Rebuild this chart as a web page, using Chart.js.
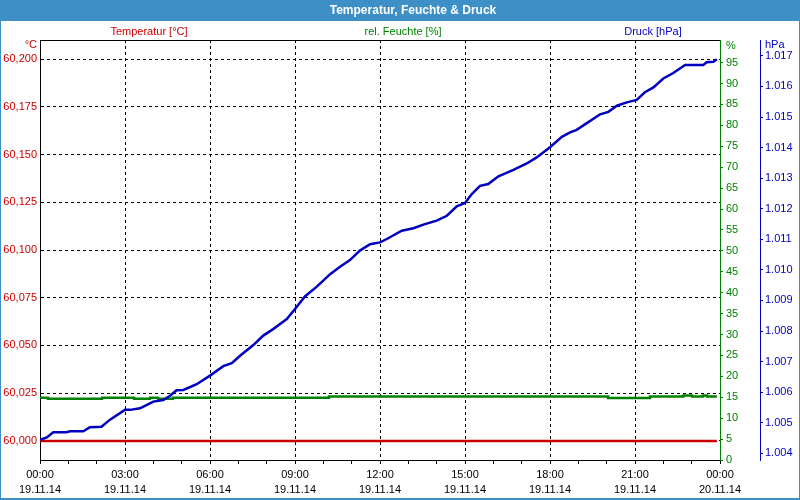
<!DOCTYPE html>
<html>
<head>
<meta charset="utf-8">
<script src="https://cdn.jsdelivr.net/npm/chart.js@4/dist/chart.umd.min.js"></script>
<style>
html,body{margin:0;padding:0;background:#fff;}
#wrap{position:relative;width:800px;height:500px;}
</style>
</head>
<body>
<div id="wrap"><canvas id="c" width="800" height="500"></canvas></div>
<script>
const chartTitle = 'Temperatur, Feuchte & Druck';
const seriesNames = ['Temperatur [°C]', 'rel. Feuchte [%]', 'Druck [hPa]'];
const unitLabels = ['°C', '%', 'hPa'];

// x axis: hours since 19.11.14 00:00
const hourTicks = [0,1,2,3,4,5,6,7,8,9,10,11,12,13,14,15,16,17,18,19,20,21,22,23,24];
const timeLabels = ['00:00','03:00','06:00','09:00','12:00','15:00','18:00','21:00','00:00'];
const dateLabels = ['19.11.14','19.11.14','19.11.14','19.11.14','19.11.14','19.11.14','19.11.14','19.11.14','20.11.14'];

const tempTicks = [60.000, 60.025, 60.050, 60.075, 60.100, 60.125, 60.150, 60.175, 60.200];
const humTicks = [0,5,10,15,20,25,30,35,40,45,50,55,60,65,70,75,80,85,90,95];
const pressTicks = [1004,1005,1006,1007,1008,1009,1010,1011,1012,1013,1014,1015,1016,1017];

const tempHours = [0, 23.89];
const tempValues = [60.000, 60.000];

const humHours = [0, 0.28, 2.19, 3.32, 3.88, 4.17, 4.69, 10.2, 20.05, 21.53, 22.7, 23.01, 23.4, 23.54, 23.89];
const humValues = [14.9, 14.65, 14.9, 14.65, 14.9, 14.65, 14.9, 15.15, 14.85, 15.15, 15.4, 15.15, 15.4, 15.15, 15.15];

const pressHours = [0,0.24,0.47,0.94,1.06,1.53,1.76,2.17,2.47,3.00,
  3.18,3.53,4.00,4.35,4.59,4.82,5.06,5.53,6.00,6.47,
  6.77,7.06,7.53,7.88,8.24,8.71,9.00,9.35,9.77,10.24,
  10.59,10.94,11.29,11.65,12.00,12.24,12.77,13.18,13.53,14.00,
  14.36,14.71,15.00,15.24,15.53,15.82,16.18,16.71,17.18,17.53,
  18.00,18.42,18.71,18.94,19.30,19.77,20.06,20.36,20.71,21.06,
  21.35,21.65,22.00,22.35,22.77,23.41,23.53,23.77,23.89];
const pressValues = [1004.44,1004.52,1004.69,1004.69,1004.72,1004.72,1004.85,1004.87,1005.10,1005.42,
  1005.42,1005.47,1005.69,1005.74,1005.88,1006.06,1006.07,1006.26,1006.54,1006.85,
  1006.95,1007.19,1007.54,1007.85,1008.07,1008.39,1008.72,1009.13,1009.45,1009.86,
  1010.10,1010.32,1010.63,1010.84,1010.90,1011.01,1011.28,1011.36,1011.48,1011.61,
  1011.77,1012.08,1012.19,1012.48,1012.75,1012.81,1013.06,1013.27,1013.48,1013.68,
  1014.01,1014.35,1014.50,1014.58,1014.80,1015.09,1015.17,1015.37,1015.48,1015.56,
  1015.81,1015.97,1016.26,1016.44,1016.70,1016.70,1016.79,1016.81,1016.89];

const RED = '#cc0000', GREEN = '#008000', BLUE = '#0000c0', BAR = '#3d8fc6';
const FAMILY = "'Liberation Sans', Arial, sans-serif";
const font11 = {family: FAMILY, size: 11};

const zip = (xs, ys) => xs.map((x, i) => ({x: x, y: ys[i]}));

const decor = {
  id: 'decor',
  beforeDraw(chart) {
    const ctx = chart.ctx;
    ctx.save();
    ctx.fillStyle = '#ffffff';
    ctx.fillRect(0, 0, 800, 500);
    ctx.fillStyle = BAR;
    ctx.fillRect(0, 0, 800, 21);
    ctx.fillRect(0, 0, 1, 500);
    ctx.fillRect(799, 0, 1, 500);
    ctx.fillRect(0, 498, 800, 2);
    ctx.fillStyle = '#ffffff';
    ctx.font = 'bold 12px ' + FAMILY;
    ctx.textAlign = 'center';
    ctx.textBaseline = 'middle';
    ctx.fillText(chartTitle, 413, 10.5);
    ctx.restore();
  },
  afterDraw(chart) {
    const ctx = chart.ctx;
    const a = chart.chartArea;
    ctx.save();
    ctx.strokeStyle = '#000';
    ctx.lineWidth = 1;
    ctx.beginPath();
    ctx.moveTo(a.left, Math.round(a.top) + 0.5);
    ctx.lineTo(a.right, Math.round(a.top) + 0.5);
    ctx.stroke();
    ctx.font = '11px ' + FAMILY;
    ctx.textBaseline = 'middle';
    ctx.textAlign = 'center';
    ctx.fillStyle = RED;  ctx.fillText(seriesNames[0], 149, 32);
    ctx.fillStyle = GREEN; ctx.fillText(seriesNames[1], 403, 32);
    ctx.fillStyle = BLUE; ctx.fillText(seriesNames[2], 653, 32);
    ctx.textAlign = 'right';
    ctx.fillStyle = RED; ctx.fillText(unitLabels[0], 37, 45);
    ctx.textAlign = 'left';
    ctx.fillStyle = GREEN; ctx.fillText(unitLabels[1], 726, 46);
    ctx.fillStyle = BLUE; ctx.fillText(unitLabels[2], 765, 45);
    ctx.restore();
  }
};

new Chart(document.getElementById('c'), {
  type: 'line',
  data: {
    datasets: [
      {label: seriesNames[2], data: zip(pressHours, pressValues), yAxisID: 'yP',
       borderColor: BLUE, borderWidth: 2.5, pointRadius: 0, tension: 0, fill: false},
      {label: seriesNames[1], data: zip(humHours, humValues), yAxisID: 'yH',
       borderColor: GREEN, borderWidth: 2.5, pointRadius: 0, stepped: true, fill: false},
      {label: seriesNames[0], data: zip(tempHours, tempValues), yAxisID: 'yT',
       borderColor: RED, borderWidth: 2.5, pointRadius: 0, tension: 0, fill: false}
    ]
  },
  options: {
    responsive: false,
    animation: false,
    devicePixelRatio: 1,
    layout: {padding: {top: 40, left: 0, right: 0, bottom: 0}},
    plugins: {legend: {display: false}, title: {display: false}, tooltip: {enabled: false}},
    scales: {
      x: {
        type: 'linear', position: 'bottom', min: 0, max: 24,
        afterBuildTicks: s => { s.ticks = hourTicks.map(v => ({value: v})); },
        afterFit: s => { s.height = 40; },
        grid: {
          color: c => (c.tick && c.tick.value % 3 === 0 && c.tick.value > 0 && c.tick.value < 24) ? '#000' : 'rgba(0,0,0,0)',
          tickColor: '#000', tickLength: 4, lineWidth: 1, tickBorderDash: []
        },
        border: {display: true, color: '#000', width: 1, dash: [3, 3]},
        ticks: {
          autoSkip: false, maxRotation: 0, minRotation: 0, padding: 3, color: '#000',
          font: {family: FAMILY, size: 11, lineHeight: 15 / 11},
          callback: v => (v % 3 === 0) ? [timeLabels[v / 3], dateLabels[v / 3]] : ''
        }
      },
      yT: {
        type: 'linear', position: 'left', min: 59.99, max: 60.21,
        afterBuildTicks: s => { s.ticks = tempTicks.map(v => ({value: v})); },
        afterFit: s => { s.width = 40; },
        grid: {color: '#000', drawTicks: false, lineWidth: 1},
        border: {display: true, color: '#000', width: 1, dash: [3, 3]},
        ticks: {color: RED, padding: 3, font: font11, callback: v => v.toFixed(3).replace('.', ',')}
      },
      yH: {
        type: 'linear', position: 'right', min: 0, max: 100.4,
        afterBuildTicks: s => { s.ticks = humTicks.map(v => ({value: v})); },
        afterFit: s => { s.width = 40; },
        grid: {drawOnChartArea: false, color: GREEN, tickLength: 3, lineWidth: 1},
        border: {display: true, color: GREEN, width: 1},
        ticks: {color: GREEN, padding: 3, font: font11, callback: v => String(v)}
      },
      yP: {
        type: 'linear', position: 'right', min: 1003.78, max: 1017.52,
        afterBuildTicks: s => { s.ticks = pressTicks.map(v => ({value: v})); },
        afterFit: s => { s.width = 40; },
        grid: {drawOnChartArea: false, color: BLUE, tickLength: 3, lineWidth: 1},
        border: {display: true, color: BLUE, width: 1},
        ticks: {color: BLUE, padding: 2, font: font11,
          callback: v => Math.floor(v / 1000) + '.' + String(Math.round(v % 1000)).padStart(3, '0')}
      }
    }
  },
  plugins: [decor]
});
</script>
</body>
</html>
